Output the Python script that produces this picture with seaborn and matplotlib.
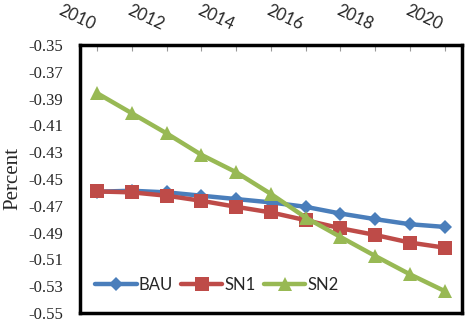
import pandas as pd
import matplotlib.pyplot as plt
import seaborn as sns

# --- data ---
years = [2010, 2011, 2012, 2013, 2014, 2015, 2016, 2017, 2018, 2019, 2020]
bau = [-0.4595, -0.4588, -0.4600, -0.4625, -0.4650, -0.4675, -0.4708, -0.4758, -0.4800, -0.4838, -0.4858]
sn1 = [-0.4593, -0.4600, -0.4625, -0.4663, -0.4708, -0.4750, -0.4808, -0.4868, -0.4918, -0.4975, -0.5013]
sn2 = [-0.3860, -0.4010, -0.4160, -0.4320, -0.4450, -0.4612, -0.4788, -0.4933, -0.5075, -0.5212, -0.5337]
series_names = ['BAU', 'SN1', 'SN2']
y_ticks = [-0.35, -0.37, -0.39, -0.41, -0.43, -0.45, -0.47, -0.49, -0.51, -0.53, -0.55]

df = pd.DataFrame({'Year': years * 3,
                   'Value': bau + sn1 + sn2,
                   'Scenario': [n for n in series_names for _ in years]})

colors = {'BAU': '#4A7EBB', 'SN1': '#BE4B48', 'SN2': '#98B954'}
markers = {'BAU': 'D', 'SN1': 's', 'SN2': '^'}
msizes = {'BAU': 7, 'SN1': 10, 'SN2': 10.5}

sns.set_style("white")
fig = plt.figure(figsize=(4.7, 3.29), dpi=100)
ax = fig.add_axes([0.170, 0.049, 0.813, 0.814])

for name in series_names:
    sns.lineplot(data=df[df['Scenario'] == name], x='Year', y='Value', ax=ax,
                 color=colors[name], marker=markers[name], markersize=msizes[name],
                 markeredgewidth=0, linewidth=3.2, label=name)

ax.set_xlim(2009.5, 2020.5)
ax.set_ylim(-0.55, -0.35)
ax.set_yticks(y_ticks)
ax.set_yticklabels([f"{v:.2f}" for v in y_ticks], family='Liberation Serif', fontsize=12)

# x axis on top, labels every other year
ax.xaxis.tick_top()
ax.set_xticks(years)
ax.set_xticklabels([str(y) if y % 2 == 0 else '' for y in years],
                   family='Lato', fontsize=12, rotation=-25, ha='right', va='bottom')
ax.tick_params(axis='x', direction='in', length=4, width=0.8, color='#999999', pad=9)
ax.tick_params(axis='y', length=0, pad=12)
ax.set_xlabel('')
ax.set_ylabel('Percent', family='Liberation Serif', fontsize=15, labelpad=4)

for sp in ax.spines.values():
    sp.set_visible(True)
    sp.set_color('black')
    sp.set_linewidth(2.5)

leg = ax.legend(loc='lower left', bbox_to_anchor=(0.0, 0.02), ncol=3, frameon=False,
                handlelength=2.5, handletextpad=0.1, columnspacing=0.5,
                prop={'family': 'Lato', 'size': 12})

fig.savefig('out.png', dpi=100)
